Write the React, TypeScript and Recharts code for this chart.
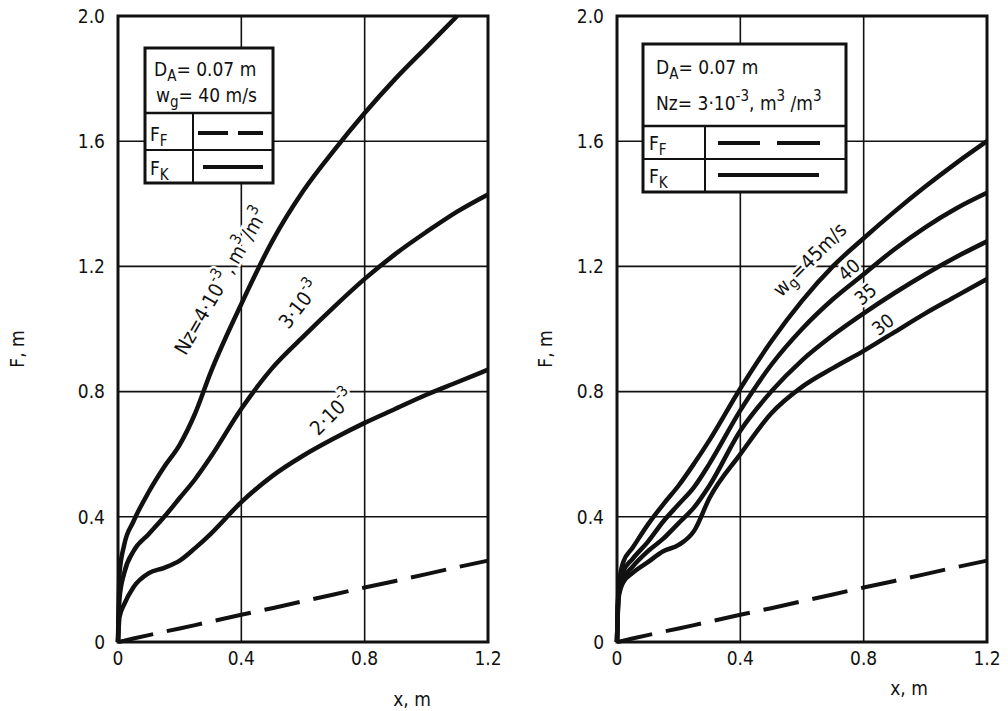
import React from 'react';
import {
  LineChart,
  Line,
  XAxis,
  YAxis,
  CartesianGrid,
  ReferenceArea,
  ReferenceDot,
  Label,
} from 'recharts';

// shared x positions (m) for both panels
const xValues = [0, 0.005, 0.02, 0.05, 0.1, 0.15, 0.2, 0.25, 0.3, 0.4, 0.5, 0.6, 0.7, 0.8, 0.9, 1.0, 1.1, 1.2];

// F_F, dashed straight line (same in both panels)
const ffValues = [0, 0.001, 0.004, 0.011, 0.022, 0.033, 0.043, 0.054, 0.065, 0.087, 0.108, 0.13, 0.152, 0.174, 0.195, 0.217, 0.239, 0.26];

// left panel: F_K for Nz = 4e-3, 3e-3, 2e-3
const nz4 = [0, 0.22, 0.31, 0.385, 0.48, 0.56, 0.63, 0.73, 0.86, 1.08, 1.28, 1.44, 1.57, 1.69, 1.8, 1.9, 2.0, null];
const nz3 = [0, 0.14, 0.22, 0.29, 0.345, 0.4, 0.46, 0.52, 0.59, 0.745, 0.875, 0.975, 1.07, 1.16, 1.24, 1.31, 1.375, 1.43];
const nz2 = [0, 0.08, 0.12, 0.175, 0.22, 0.237, 0.26, 0.3, 0.345, 0.447, 0.53, 0.595, 0.65, 0.7, 0.745, 0.79, 0.83, 0.87];

// right panel: F_K for wg = 45, 40, 35, 30 m/s
const wg45 = [0, 0.17, 0.255, 0.3, 0.375, 0.44, 0.5, 0.57, 0.645, 0.81, 0.96, 1.09, 1.2, 1.29, 1.375, 1.455, 1.53, 1.6];
const wg40 = [0, 0.16, 0.225, 0.265, 0.32, 0.385, 0.44, 0.495, 0.57, 0.74, 0.885, 1.0, 1.095, 1.175, 1.255, 1.325, 1.385, 1.435];
const wg35 = [0, 0.15, 0.2, 0.24, 0.29, 0.33, 0.38, 0.43, 0.5, 0.675, 0.8, 0.9, 0.98, 1.05, 1.115, 1.175, 1.23, 1.28];
const wg30 = [0, 0.14, 0.19, 0.22, 0.255, 0.29, 0.31, 0.355, 0.46, 0.6, 0.73, 0.815, 0.875, 0.93, 0.99, 1.05, 1.105, 1.16];

const xTicks = [0, 0.4, 0.8, 1.2];
const yTicks = [0, 0.4, 0.8, 1.2, 1.6, 2.0];

const leftData = xValues.map((x, i) => ({ x, ff: ffValues[i], nz4: nz4[i], nz3: nz3[i], nz2: nz2[i] }));
const rightData = xValues.map((x, i) => ({ x, ff: ffValues[i], wg45: wg45[i], wg40: wg40[i], wg35: wg35[i], wg30: wg30[i] }));

const FONT = "'DejaVu Sans Condensed', 'Liberation Sans Narrow', 'DejaVu Sans', sans-serif";
const INK = '#111';

const fmtX = (v: number) => (v === 0 ? '0' : String(v));
const fmtY = (v: number) => (v === 0 ? '0' : v.toFixed(1));

// rotated text written along a curve, white halo cuts the grid lines like in the print
function CurveLabel({ cx, cy, angle, size = 20, children }: any) {
  return (
    <g transform={`translate(${cx},${cy}) rotate(${angle})`}>
      <text
        textAnchor="middle"
        dominantBaseline="central"
        fontSize={size}
        fontFamily={FONT}
        fill={INK}
        stroke="#fff"
        strokeWidth={5}
        paintOrder="stroke"
      >
        {children}
      </text>
    </g>
  );
}

const sup = (t: string) => (
  <>
    <tspan dy={-8} fontSize={15}>{t}</tspan>
    <tspan dy={8}>{'\u200a'}</tspan>
  </>
);

function PanelFrame({ data, yTitleDx, xTitleDx, xTitleDy, children }: any) {
  return (
    <LineChart width={520} height={711} data={data} margin={{ top: 16, right: 32, bottom: 29, left: 18 }}>
      <CartesianGrid stroke={INK} strokeWidth={1.6} />
      <XAxis
        dataKey="x"
        type="number"
        domain={[0, 1.2]}
        ticks={xTicks}
        interval={0}
        tickFormatter={fmtX}
        axisLine={false}
        tickLine={false}
        tickSize={0}
        tickMargin={10}
        height={40}
        tick={{ fill: INK, fontSize: 19, fontFamily: FONT }}
      >
        <Label
          content={(p: any) => (
            <text x={p.viewBox.x + xTitleDx} y={p.viewBox.y + xTitleDy} textAnchor="middle" fontSize={19} fontFamily={FONT} fill={INK}>
              x, m
            </text>
          )}
        />
      </XAxis>
      <YAxis
        type="number"
        domain={[0, 2]}
        ticks={yTicks}
        interval={0}
        tickFormatter={fmtY}
        axisLine={false}
        tickLine={false}
        tickSize={0}
        tickMargin={13}
        width={100}
        tick={{ fill: INK, fontSize: 19, fontFamily: FONT }}
      >
        <Label
          content={(p: any) => {
            const cx = p.viewBox.x + p.viewBox.width + yTitleDx;
            const cy = p.viewBox.y + p.viewBox.height / 2 + 20;
            return (
              <text x={cx} y={cy} transform={`rotate(-90 ${cx} ${cy})`} textAnchor="middle" dominantBaseline="central" fontSize={19} fontFamily={FONT} fill={INK}>
                F, m
              </text>
            );
          }}
        />
      </YAxis>
      <ReferenceArea x1={0} x2={1.2} y1={0} y2={2} fill="none" fillOpacity={0} stroke={INK} strokeWidth={3} />
      {children}
    </LineChart>
  );
}

const curve = (key: string) => (
  <Line key={key} dataKey={key} type="monotone" stroke={INK} strokeWidth={4.5} dot={false} activeDot={false} isAnimationActive={false} />
);

const tag = (x: number, y: number, angle: number, content: any, size = 20) => (
  <ReferenceDot
    x={x}
    y={y}
    r={0}
    zIndex={-50}
    shape={(p: any) => (
      <CurveLabel cx={p.cx} cy={p.cy} angle={angle} size={size}>
        {content}
      </CurveLabel>
    )}
  />
);

function LegendBoxes() {
  const t = { fontFamily: FONT, fill: INK, fontSize: 19 } as any;
  return (
    <svg width={1008} height={711} style={{ position: 'absolute', left: 0, top: 0, pointerEvents: 'none' }}>
      {/* left legend */}
      <rect x={145} y={48} width={128} height={135} fill="#fff" stroke={INK} strokeWidth={3} />
      <line x1={145} y1={113} x2={273} y2={113} stroke={INK} strokeWidth={2.5} />
      <line x1={145} y1={150} x2={273} y2={150} stroke={INK} strokeWidth={2} />
      <line x1={193} y1={113} x2={193} y2={183} stroke={INK} strokeWidth={2} />
      <text x={154} y={76} {...t}>
        D<tspan dy={5} fontSize={15}>A</tspan><tspan dy={-5}>= 0.07 m</tspan>
      </text>
      <text x={156} y={102} {...t}>
        w<tspan dy={5} fontSize={15}>g</tspan><tspan dy={-5}>= 40 m/s</tspan>
      </text>
      <text x={150} y={141} {...t}>F<tspan dy={5} fontSize={15}>F</tspan></text>
      <text x={150} y={175} {...t}>F<tspan dy={5} fontSize={15}>K</tspan></text>
      <line x1={198} y1={133} x2={228} y2={133} stroke={INK} strokeWidth={4} />
      <line x1={238} y1={133} x2={263} y2={133} stroke={INK} strokeWidth={4} />
      <line x1={203} y1={167} x2={263} y2={167} stroke={INK} strokeWidth={4} />

      {/* right legend */}
      <rect x={643} y={44} width={203} height={148} fill="#fff" stroke={INK} strokeWidth={3} />
      <line x1={643} y1={126} x2={846} y2={126} stroke={INK} strokeWidth={2.5} />
      <line x1={643} y1={159} x2={846} y2={159} stroke={INK} strokeWidth={2} />
      <line x1={705} y1={126} x2={705} y2={192} stroke={INK} strokeWidth={2} />
      <text x={656} y={74} {...t}>
        D<tspan dy={5} fontSize={15}>A</tspan><tspan dy={-5}>= 0.07 m</tspan>
      </text>
      <text x={656} y={110} {...t}>
        Nz= 3·10<tspan dy={-9} fontSize={15}>-3</tspan><tspan dy={9}>, m</tspan>
        <tspan dy={-9} fontSize={15}>3</tspan><tspan dy={9}> /m</tspan>
        <tspan dy={-9} fontSize={15}>3</tspan>
      </text>
      <text x={649} y={150} {...t}>F<tspan dy={5} fontSize={15}>F</tspan></text>
      <text x={649} y={183} {...t}>F<tspan dy={5} fontSize={15}>K</tspan></text>
      <line x1={718} y1={143} x2={760} y2={143} stroke={INK} strokeWidth={4} />
      <line x1={777} y1={143} x2={820} y2={143} stroke={INK} strokeWidth={4} />
      <line x1={718} y1={175} x2={819} y2={175} stroke={INK} strokeWidth={4} />
    </svg>
  );
}

export default function App() {
  return (
    <div style={{ position: 'absolute', left: 0, top: 0, width: 1008, height: 711, background: '#fff', overflow: 'hidden' }}>
      <div style={{ position: 'absolute', left: 0, top: 0 }}>
        <PanelFrame data={leftData} yTitleDx={-101} xTitleDx={294} xTitleDy={64}>
          {tag(0.335, 1.155, -60, <>Nz=4·10{sup('-3')}, m{sup('3')}/m{sup('3')}</>)}
          {tag(0.59, 1.08, -52, <>3·10{sup('-3')}</>)}
          {tag(0.697, 0.735, -45, <>2·10{sup('-3')}</>)}
          <Line dataKey="ff" type="linear" stroke={INK} strokeWidth={4} strokeDasharray="36 14" dot={false} activeDot={false} isAnimationActive={false} />
          {curve('nz4')}
          {curve('nz3')}
          {curve('nz2')}
        </PanelFrame>
      </div>
      <div style={{ position: 'absolute', left: 499, top: 0 }}>
        <PanelFrame data={rightData} yTitleDx={-72} xTitleDx={292} xTitleDy={53}>
          {tag(0.625, 1.222, -45, <>w<tspan dy={5} fontSize={15}>g</tspan><tspan dy={-5}>=45m/s</tspan></>)}
          {tag(0.752, 1.19, -42, '40', 19)}
          {tag(0.805, 1.112, -40, '35', 19)}
          {tag(0.862, 1.015, -38, '30', 19)}
          <Line dataKey="ff" type="linear" stroke={INK} strokeWidth={4} strokeDasharray="36 14" dot={false} activeDot={false} isAnimationActive={false} />
          {curve('wg45')}
          {curve('wg40')}
          {curve('wg35')}
          {curve('wg30')}
        </PanelFrame>
      </div>
      <LegendBoxes />
    </div>
  );
}
